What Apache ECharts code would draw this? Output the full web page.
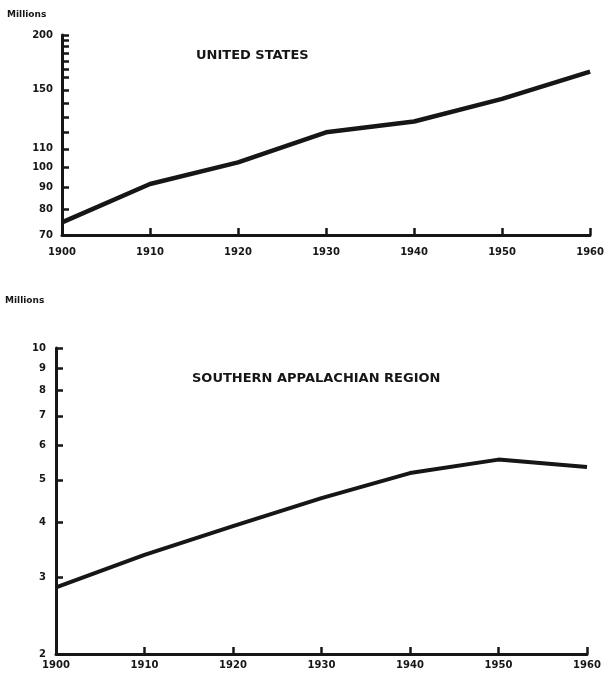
<!DOCTYPE html>
<html>
<head>
<meta charset="utf-8">
<script src="https://cdn.jsdelivr.net/npm/echarts@6.0.0/dist/echarts.min.js"></script>
<style>
  html, body { margin: 0; padding: 0; background: #fff; }
  #main { width: 607px; height: 683px; }
</style>
</head>
<body>
<div id="main"></div>
<script>
var years = [1900, 1910, 1920, 1930, 1940, 1950, 1960];
// population, millions
var usPop = [74.8, 91.5, 102.5, 120, 127, 143, 165];
var appPop = [2.84, 3.37, 3.92, 4.54, 5.18, 5.56, 5.35];
var usTicks = [70, 80, 90, 100, 110, 120, 130, 140, 150, 160, 167, 174, 182, 189, 195, 200];
var usLabels = [70, 80, 90, 100, 110, 150, 200];
var appTicks = [2, 3, 4, 5, 6, 7, 8, 9, 10];

var ink = '#161616';
var font = 'DejaVu Sans';

function xAxisOf(idx, margin) {
  return {
    type: 'value', gridIndex: idx, min: 1900, max: 1960, interval: 10,
    axisLine: { lineStyle: { color: ink, width: 3 } },
    axisTick: { inside: true, length: 7, lineStyle: { color: ink, width: 2.5 } },
    axisLabel: { color: ink, fontFamily: font, fontWeight: 'bold', fontSize: 10, margin: margin,
      formatter: function (v) { return String(v); } },
    splitLine: { show: false }
  };
}

var chart = echarts.init(document.getElementById('main'));
chart.setOption({
  animation: false,
  backgroundColor: '#fff',
  title: [
    { text: 'Millions', left: 2, top: 5, textStyle: { color: ink, fontFamily: font, fontWeight: 'bold', fontSize: 9 } },
    { text: 'UNITED STATES', left: 191, top: 44, textStyle: { color: ink, fontFamily: font, fontWeight: 'bold', fontSize: 13 } },
    { text: 'Millions', left: 0, top: 291, textStyle: { color: ink, fontFamily: font, fontWeight: 'bold', fontSize: 9 } },
    { text: 'SOUTHERN APPALACHIAN REGION', left: 187, top: 367, textStyle: { color: ink, fontFamily: font, fontWeight: 'bold', fontSize: 13 } }
  ],
  grid: [
    { left: 62, top: 35, width: 531, height: 200 },
    { left: 56, top: 348, width: 531, height: 306 }
  ],
  xAxis: [xAxisOf(0, 12), xAxisOf(1, 6)],
  yAxis: [
    {
      type: 'log', gridIndex: 0, min: 70, max: 200, logBase: 10,
      axisLine: { show: true, lineStyle: { color: ink, width: 3 } },
      axisTick: { show: true, inside: true, length: 7, customValues: usTicks, lineStyle: { color: ink, width: 2.5 } },
      axisLabel: { color: ink, fontFamily: font, fontWeight: 'bold', fontSize: 10, margin: 9, customValues: usLabels },
      splitLine: { show: false }
    },
    {
      type: 'log', gridIndex: 1, min: 2, max: 10, logBase: 10,
      axisLine: { show: true, lineStyle: { color: ink, width: 3 } },
      axisTick: { show: true, inside: true, length: 7, customValues: appTicks, lineStyle: { color: ink, width: 2.5 } },
      axisLabel: { color: ink, fontFamily: font, fontWeight: 'bold', fontSize: 10, margin: 10, customValues: appTicks },
      splitLine: { show: false }
    }
  ],
  series: [
    {
      type: 'line', xAxisIndex: 0, yAxisIndex: 0, symbol: 'none',
      lineStyle: { color: ink, width: 4.5 },
      data: years.map(function (y, i) { return [y, usPop[i]]; })
    },
    {
      type: 'line', xAxisIndex: 1, yAxisIndex: 1, symbol: 'none',
      lineStyle: { color: ink, width: 4 },
      data: years.map(function (y, i) { return [y, appPop[i]]; })
    }
  ]
});
</script>
</body>
</html>
